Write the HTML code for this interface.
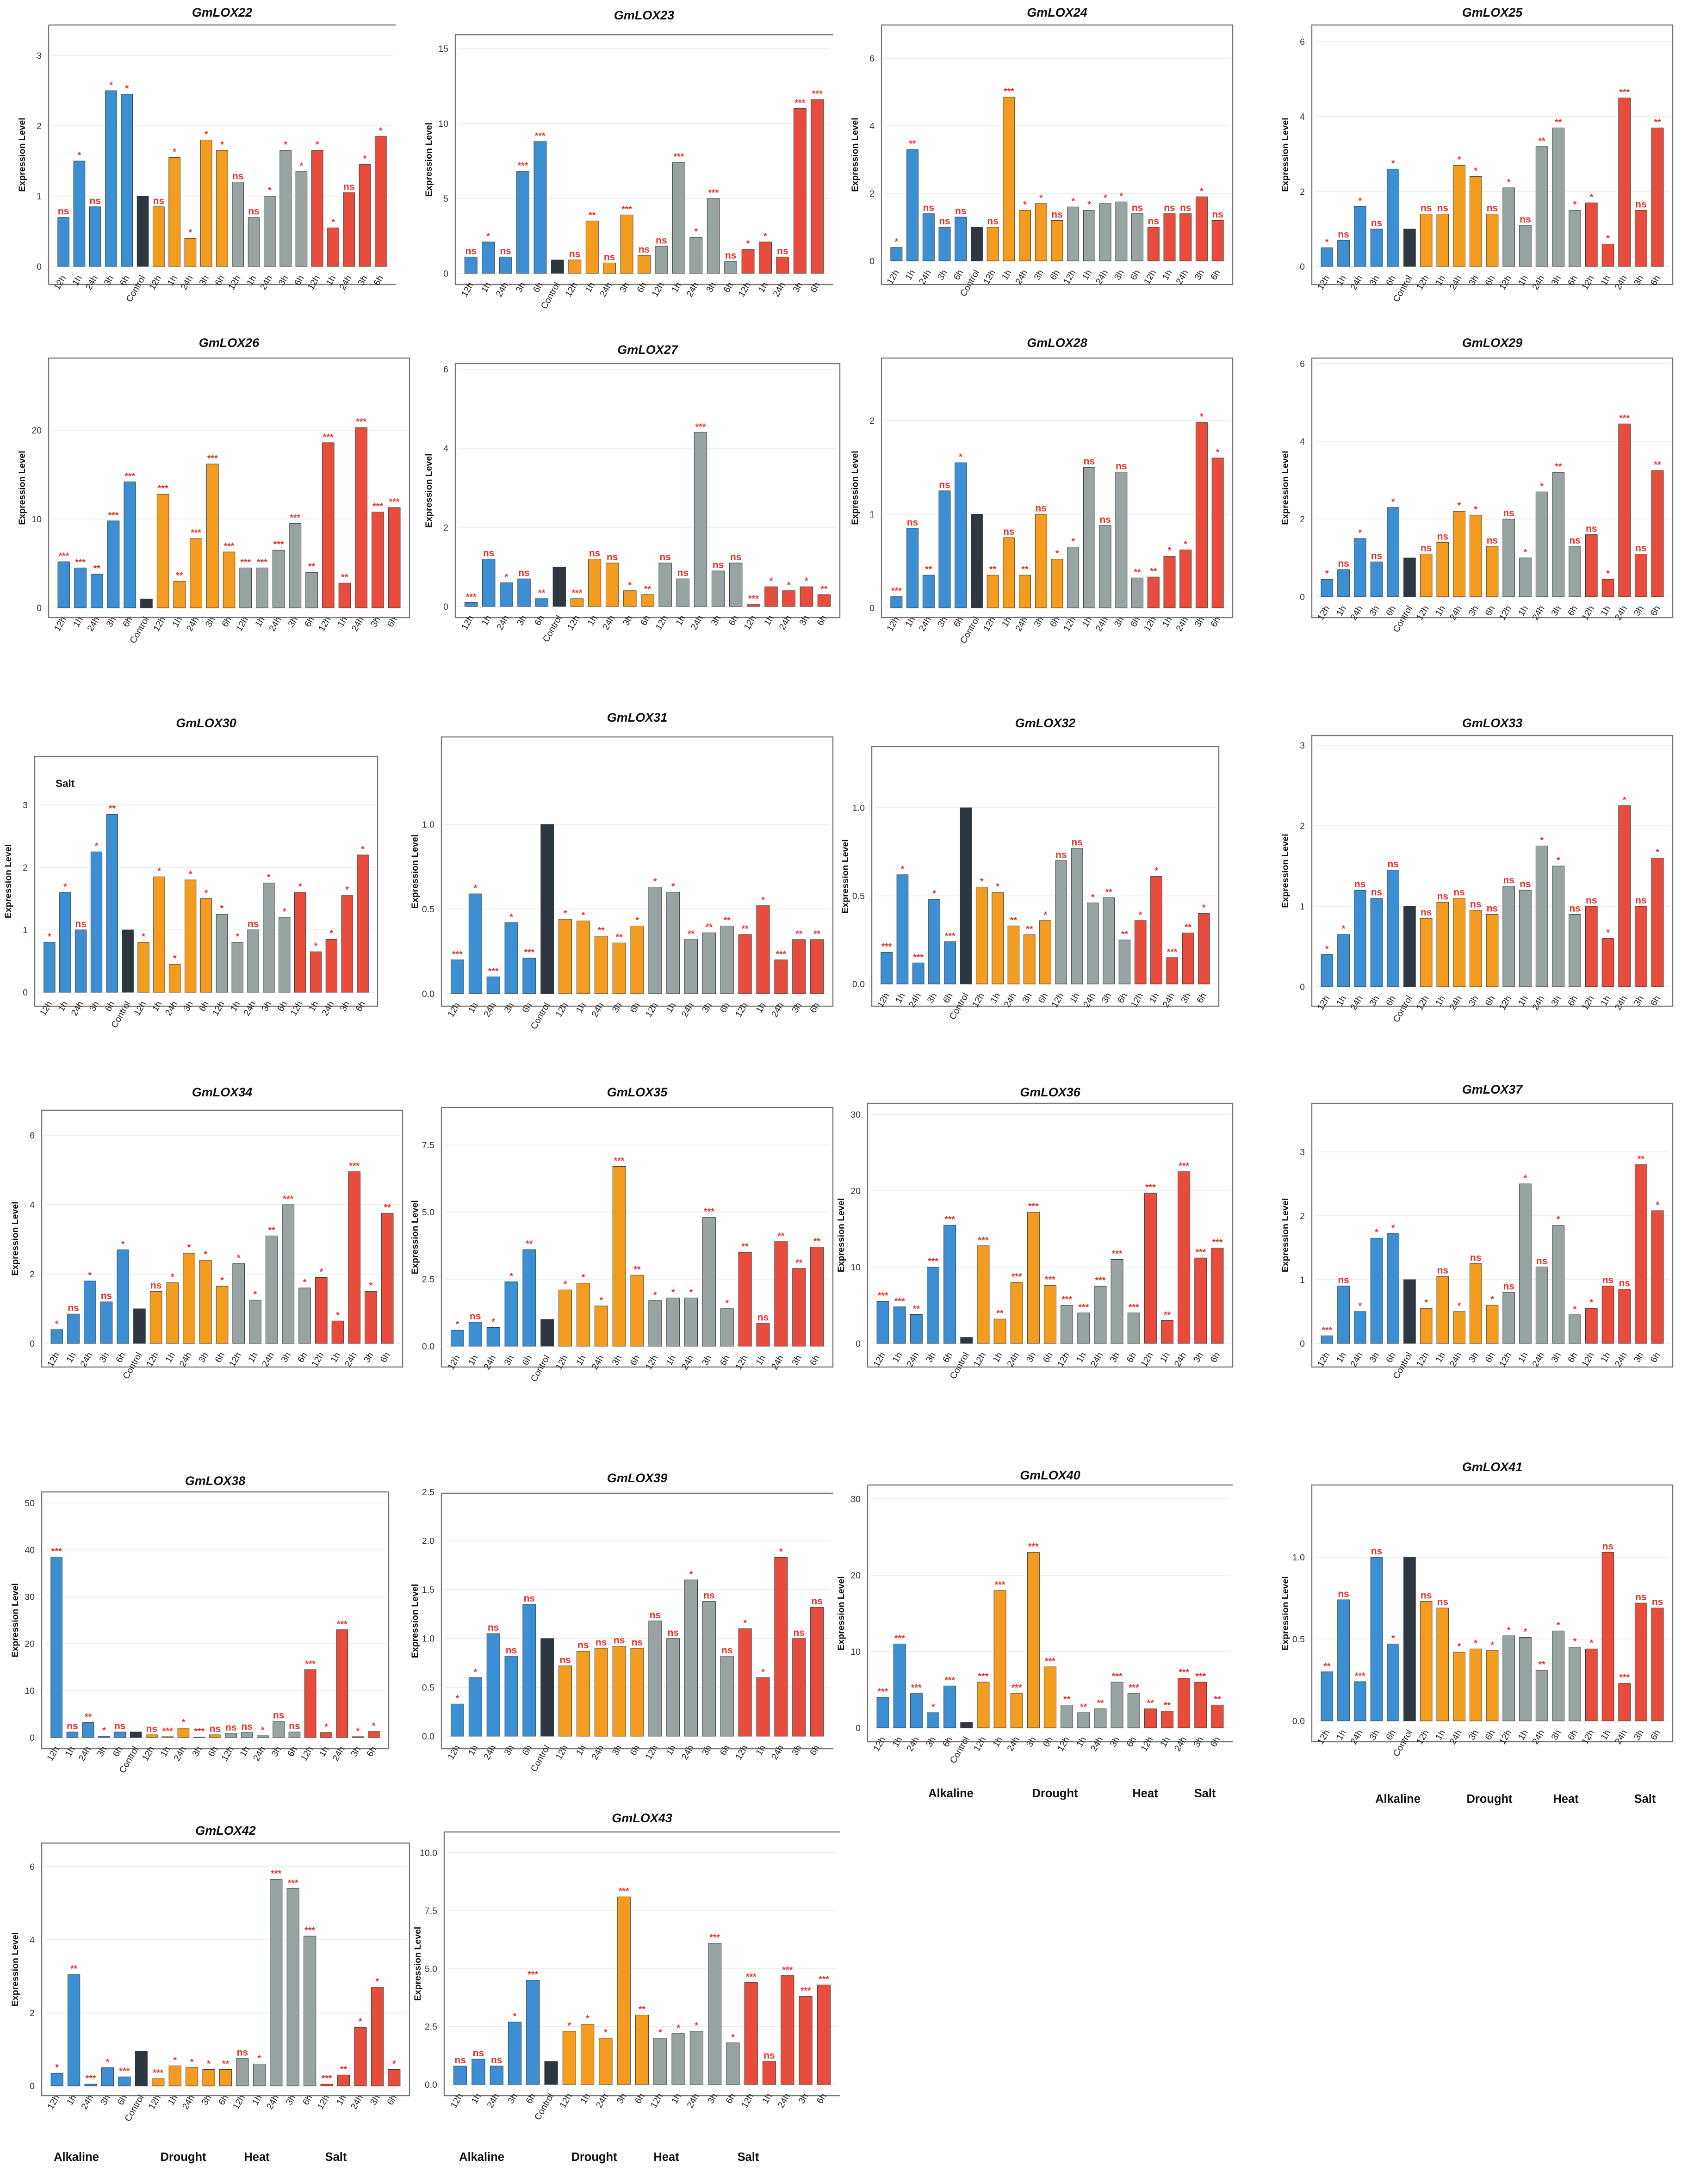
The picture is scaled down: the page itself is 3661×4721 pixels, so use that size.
<!DOCTYPE html>
<html><head><meta charset="utf-8">
<style>
html,body{margin:0;padding:0;background:#fff}
svg{display:block}
text{font-family:"Liberation Sans",Arial,sans-serif}
</style></head>
<body>
<svg id="fig" xmlns="http://www.w3.org/2000/svg" width="3661" height="4721" viewBox="0 0 1220.33 1573.67">
<rect width="1220.33" height="1573.67" fill="#fff"/>
</svg>
<script>
const categories = ["12h","1h","24h","3h","6h","Control","12h","1h","24h","3h","6h","12h","1h","24h","3h","6h","12h","1h","24h","3h","6h"];
const groupNames = ["Alkaline","Drought","Heat","Salt"];

const vals22 = [0.7,1.5,0.85,2.5,2.45,1.0,0.85,1.55,0.4,1.8,1.65,1.2,0.7,1.0,1.65,1.35,1.65,0.55,1.05,1.45,1.85];
const ann22 = "ns * ns * * - ns * * * * ns ns * * * * * ns * *";
const vals23 = [1.1,2.1,1.1,6.8,8.8,0.9,0.9,3.5,0.7,3.9,1.2,1.8,7.4,2.4,5.0,0.8,1.6,2.1,1.1,11.0,11.6];
const ann23 = "ns * ns *** *** - ns ** ns *** ns ns *** * *** ns * * ns *** ***";
const vals24 = [0.4,3.3,1.4,1.0,1.3,1.0,1.0,4.85,1.5,1.7,1.2,1.6,1.5,1.7,1.75,1.4,1.0,1.4,1.4,1.9,1.2];
const ann24 = "* ** ns ns ns - ns *** * * ns * * * * ns ns ns ns * ns";
const vals25 = [0.5,0.7,1.6,1.0,2.6,1.0,1.4,1.4,2.7,2.4,1.4,2.1,1.1,3.2,3.7,1.5,1.7,0.6,4.5,1.5,3.7];
const ann25 = "* ns * ns * - ns ns * * ns * ns ** ** * * * *** ns **";
const vals26 = [5.2,4.5,3.8,9.8,14.2,1.0,12.8,3.0,7.8,16.2,6.3,4.5,4.5,6.5,9.5,4.0,18.6,2.8,20.3,10.8,11.3];
const ann26 = "*** *** ** *** *** - *** ** *** *** *** *** *** *** *** ** *** ** *** *** ***";
const vals27 = [0.1,1.2,0.6,0.7,0.2,1.0,0.2,1.2,1.1,0.4,0.3,1.1,0.7,4.4,0.9,1.1,0.05,0.5,0.4,0.5,0.3];
const ann27 = "*** ns * ns ** - *** ns ns * ** ns ns *** ns ns *** * * * **";
const vals28 = [0.12,0.85,0.35,1.25,1.55,1.0,0.35,0.75,0.35,1.0,0.52,0.65,1.5,0.88,1.45,0.32,0.33,0.55,0.62,1.98,1.6];
const ann28 = "*** ns ** ns * - ** ns ** ns * * ns ns ns ** ** * * * *";
const vals29 = [0.45,0.7,1.5,0.9,2.3,1.0,1.1,1.4,2.2,2.1,1.3,2.0,1.0,2.7,3.2,1.3,1.6,0.45,4.45,1.1,3.25];
const ann29 = "* ns * ns * - ns ns * * ns ns * * ** ns ns * *** ns **";
const vals30 = [0.8,1.6,1.0,2.25,2.85,1.0,0.8,1.85,0.45,1.8,1.5,1.25,0.8,1.0,1.75,1.2,1.6,0.65,0.85,1.55,2.2];
const ann30 = "* * ns * ** - * * * * * * * ns * * * * * * *";
const vals31 = [0.2,0.59,0.1,0.42,0.21,1.0,0.44,0.43,0.34,0.3,0.4,0.63,0.6,0.32,0.36,0.4,0.35,0.52,0.2,0.32,0.32];
const ann31 = "*** * *** * *** - * * ** ** * * * ** ** ** ** * *** ** **";
const vals32 = [0.18,0.62,0.12,0.48,0.24,1.0,0.55,0.52,0.33,0.28,0.36,0.70,0.77,0.46,0.49,0.25,0.36,0.61,0.15,0.29,0.40];
const ann32 = "*** * *** * *** - * * ** ** * ns ns * ** ** * * *** ** *";
const vals33 = [0.4,0.65,1.2,1.1,1.45,1.0,0.85,1.05,1.1,0.95,0.9,1.25,1.2,1.75,1.5,0.9,1.0,0.6,2.25,1.0,1.6];
const ann33 = "* * ns ns ns - ns ns ns ns ns ns ns * * ns ns * * ns *";
const vals34 = [0.4,0.85,1.8,1.2,2.7,1.0,1.5,1.75,2.6,2.4,1.65,2.3,1.25,3.1,4.0,1.6,1.9,0.65,4.95,1.5,3.75];
const ann34 = "* ns * ns * - ns * * * * * * ** *** * * * *** * **";
const vals35 = [0.6,0.9,0.7,2.4,3.6,1.0,2.1,2.35,1.5,6.7,2.65,1.7,1.8,1.8,4.8,1.4,3.5,0.85,3.9,2.9,3.7];
const ann35 = "* ns * * ** - * * * *** ** * * * *** * ** ns ** ** **";
const vals36 = [5.5,4.8,3.8,10,15.5,0.8,12.8,3.2,8.0,17.2,7.6,5.0,4.0,7.5,11,4.0,19.7,3.0,22.5,11.2,12.5];
const ann36 = "*** *** ** *** *** - *** ** *** *** *** *** *** *** *** *** *** ** *** *** ***";
const vals37 = [0.12,0.9,0.5,1.65,1.72,1.0,0.55,1.05,0.5,1.25,0.6,0.8,2.5,1.2,1.85,0.45,0.55,0.9,0.85,2.8,2.08];
const ann37 = "*** ns * * * - * ns * ns * ns * ns * * * ns ns ** *";
const vals38 = [38.5,1.2,3.2,0.3,1.2,1.2,0.6,0.2,2.0,0.1,0.6,0.9,1.1,0.4,3.5,1.2,14.5,1.1,23,0.2,1.3];
const ann38 = "*** ns ** * ns - ns *** * *** ns ns ns * ns ns *** * *** * *";
const vals39 = [0.33,0.6,1.05,0.82,1.35,1.0,0.72,0.87,0.9,0.92,0.9,1.18,1.0,1.6,1.38,0.82,1.1,0.6,1.83,1.0,1.32];
const ann39 = "* * ns ns ns - ns ns ns ns ns ns ns * ns ns * * * ns ns";
const vals40 = [4,11,4.5,2,5.5,0.7,6,18,4.5,23,8,3,2,2.5,6,4.5,2.5,2.2,6.5,6,3];
const ann40 = "*** *** *** * *** - *** *** *** *** *** ** ** ** *** *** ** ** *** *** **";
const vals41 = [0.3,0.74,0.24,1.0,0.47,1.0,0.73,0.69,0.42,0.44,0.43,0.52,0.51,0.31,0.55,0.45,0.44,1.03,0.23,0.72,0.69];
const ann41 = "** ns *** ns * - ns ns * * * * * ** * * * ns *** ns ns";
const vals42 = [0.35,3.05,0.05,0.5,0.25,0.95,0.2,0.55,0.5,0.45,0.45,0.75,0.6,5.65,5.4,4.1,0.05,0.3,1.6,2.7,0.45];
const ann42 = "* ** *** * *** - *** * * * ** ns * *** *** *** *** ** * * *";
const vals43 = [0.8,1.1,0.8,2.7,4.5,1.0,2.3,2.6,2.0,8.1,3.0,2.0,2.2,2.3,6.1,1.8,4.4,1.0,4.7,3.8,4.3];
const ann43 = "ns ns ns * *** - * * * *** ** * * * *** * *** ns *** *** ***";

const ticks3=[0,1,2,3], ticks6=[0,2,4,6], ticks15=[0,5,10,15], ticks20=[0,10,20], ticks2=[0,1,2],
      ticks1=[0,0.5,1.0], ticks75=[0,2.5,5,7.5], ticks30=[0,10,20,30], ticks50=[0,10,20,30,40,50],
      ticks25=[0,0.5,1.0,1.5,2.0,2.5], ticks10=[0,2.5,5,7.5,10];

const panels = [
 {n:"GmLOX22",v:vals22,a:ann22,t:ticks3,fmt:0,x0:35,x1:285,ft:18,fb:205,y0:192,yt:40,ty:12,box:false},
 {n:"GmLOX23",v:vals23,a:ann23,t:ticks15,fmt:0,x0:328,x1:600,ft:25,fb:205,y0:197,yt:35,ty:14,box:false},
 {n:"GmLOX24",v:vals24,a:ann24,t:ticks6,fmt:0,x0:635,x1:888,ft:18,fb:205,y0:188,yt:42,ty:12,box:true},
 {n:"GmLOX25",v:vals25,a:ann25,t:ticks6,fmt:0,x0:945,x1:1205,ft:18,fb:205,y0:192,yt:30,ty:12,box:true},
 {n:"GmLOX26",v:vals26,a:ann26,t:ticks20,fmt:0,x0:35,x1:295,ft:258,fb:445,y0:438,yt:310,ty:250,box:true},
 {n:"GmLOX27",v:vals27,a:ann27,t:ticks6,fmt:0,x0:328,x1:605,ft:262,fb:445,y0:437,yt:266,ty:255,box:true},
 {n:"GmLOX28",v:vals28,a:ann28,t:ticks2,fmt:0,x0:635,x1:888,ft:258,fb:445,y0:438,yt:303,ty:250,box:true},
 {n:"GmLOX29",v:vals29,a:ann29,t:ticks6,fmt:0,x0:945,x1:1205,ft:258,fb:445,y0:430,yt:262,ty:250,box:true},
 {n:"GmLOX30",v:vals30,a:ann30,t:ticks3,fmt:0,x0:25,x1:272,ft:545,fb:725,y0:715,yt:580,ty:524,box:true},
 {n:"GmLOX31",v:vals31,a:ann31,t:ticks1,fmt:1,x0:318,x1:600,ft:531,fb:725,y0:716,yt:594,ty:520,box:true},
 {n:"GmLOX32",v:vals32,a:ann32,t:ticks1,fmt:1,x0:628,x1:878,ft:538,fb:725,y0:709,yt:582,ty:524,box:true},
 {n:"GmLOX33",v:vals33,a:ann33,t:ticks3,fmt:0,x0:945,x1:1205,ft:530,fb:725,y0:711,yt:537,ty:524,box:true},
 {n:"GmLOX34",v:vals34,a:ann34,t:ticks6,fmt:0,x0:30,x1:290,ft:800,fb:985,y0:968,yt:818,ty:790,box:true},
 {n:"GmLOX35",v:vals35,a:ann35,t:ticks75,fmt:1,x0:318,x1:600,ft:798,fb:985,y0:970,yt:825,ty:790,box:true},
 {n:"GmLOX36",v:vals36,a:ann36,t:ticks30,fmt:0,x0:625,x1:888,ft:795,fb:985,y0:968,yt:803,ty:790,box:true},
 {n:"GmLOX37",v:vals37,a:ann37,t:ticks3,fmt:0,x0:945,x1:1205,ft:795,fb:985,y0:968,yt:830,ty:788,box:true},
 {n:"GmLOX38",v:vals38,a:ann38,t:ticks50,fmt:0,x0:30,x1:280,ft:1075,fb:1260,y0:1252,yt:1083,ty:1070,box:true},
 {n:"GmLOX39",v:vals39,a:ann39,t:ticks25,fmt:1,x0:318,x1:600,ft:1076,fb:1260,y0:1251,yt:1075,ty:1068,box:false},
 {n:"GmLOX40",v:vals40,a:ann40,t:ticks30,fmt:0,x0:625,x1:888,ft:1070,fb:1255,y0:1245,yt:1080,ty:1066,box:false},
 {n:"GmLOX41",v:vals41,a:ann41,t:ticks1,fmt:1,x0:945,x1:1205,ft:1070,fb:1255,y0:1240,yt:1122,ty:1060,box:true},
 {n:"GmLOX42",v:vals42,a:ann42,t:ticks6,fmt:0,x0:30,x1:295,ft:1328,fb:1510,y0:1503,yt:1345,ty:1322,box:true},
 {n:"GmLOX43",v:vals43,a:ann43,t:ticks10,fmt:1,x0:320,x1:605,ft:1320,fb:1510,y0:1502,yt:1335,ty:1313,box:false}
];
const groupLabelRows = [
 {xs:[685,760,825,868],y:1295},
 {xs:[1007,1073,1128,1185],y:1299},
 {xs:[55,132,185,242],y:1557},
 {xs:[347,428,480,539],y:1557}
];
const colors=["#3b8fd2","#3b8fd2","#3b8fd2","#3b8fd2","#3b8fd2","#2d3742","#f39c1f","#f39c1f","#f39c1f","#f39c1f","#f39c1f","#98a3a4","#98a3a4","#98a3a4","#98a3a4","#98a3a4","#e74c3c","#e74c3c","#e74c3c","#e74c3c","#e74c3c"];

const NS="http://www.w3.org/2000/svg";
const svg=document.getElementById("fig");
function mk(tag,attrs,parent,txt){const e=document.createElementNS(NS,tag);for(const k in attrs)e.setAttribute(k,attrs[k]);if(txt!==undefined)e.textContent=txt;(parent||svg).appendChild(e);return e;}

panels.forEach(p=>{
  const g=mk("g",{});
  
  
  const tmax=p.t[p.t.length-1];
  const yS=v=>p.y0-(v/tmax)*(p.y0-p.yt);
  const cx=(p.x0+p.x1)/2;
  const title=mk("text",{x:cx,y:p.ty,"font-size":9,"font-weight":"bold","font-style":"italic","text-anchor":"middle",fill:"#111"},g,p.n);
  
  
  if(p.box){
    const fr=mk("rect",{x:p.x0,y:p.ft,width:p.x1-p.x0,height:p.fb-p.ft,fill:"none",stroke:"#777","stroke-width":0.8},g);
    
    
  } else {
    mk("line",{x1:p.x0,x2:p.x1,y1:p.ft,y2:p.ft,stroke:"#777","stroke-width":0.8},g);
    mk("line",{x1:p.x0,x2:p.x0,y1:p.ft,y2:p.fb,stroke:"#777","stroke-width":0.8},g);
    mk("line",{x1:p.x0,x2:p.x1,y1:p.fb,y2:p.fb,stroke:"#777","stroke-width":0.8},g);
  }
  p.t.forEach(t=>{
    const y=yS(t);
    mk("line",{x1:p.x0+2,x2:p.x1-2,y1:y,y2:y,stroke:"#ececec","stroke-width":0.6},g);
    const tl=mk("text",{x:p.x0-5,y:y+2.3,"font-size":6.5,"text-anchor":"end",fill:"#333"},g,p.fmt?t.toFixed(1):String(t));
    
    
  });
  const at=mk("text",{x:0,y:0,"font-size":6.5,"font-weight":"bold","text-anchor":"middle",fill:"#111",transform:`translate(${p.x0-17},${(p.ft+p.fb)/2}) rotate(-90)`},g,"Expression Level");
  
  
  const n=categories.length, slot=(p.x1-p.x0-10)/n, bw=slot*0.72;
  const anns=p.a.split(" ");
  p.v.forEach((v,i)=>{
    const x=p.x0+5+i*slot+(slot-bw)/2, y=yS(v);
    const b=mk("rect",{x:x,y:y,width:bw,height:p.y0-y,fill:colors[i],stroke:"#333","stroke-width":0.3},g);
    
    
    const an=anns[i];
    if(an&&an!=="-"){
      const s=mk("text",{x:x+bw/2,y:y-2,"font-size":an==="ns"?7:6.5,"font-weight":"bold","text-anchor":"middle",fill:"#e8302a"},g,an);
      
      
    }
    const lx=x+bw/2+2, ly=p.y0+8;
    const xl=mk("text",{x:0,y:0,"font-size":6.5,"text-anchor":"end",fill:"#222",transform:`translate(${lx},${ly}) rotate(-60)`},g,categories[i]);
    
    
  });
  if(p.n==="GmLOX30"){
    const sl=mk("text",{x:p.x0+15,y:p.ft+22,"font-size":7.5,"font-weight":"bold",fill:"#111"},g,"Salt");
    
    
  }
});
groupLabelRows.forEach(r=>{
  r.xs.forEach((x,i)=>{
    const t=mk("text",{x:x,y:r.y,"font-size":8.5,"font-weight":"bold","text-anchor":"middle",fill:"#111"},svg,groupNames[i]);
    
    
  });
});
</script>
</body></html>
